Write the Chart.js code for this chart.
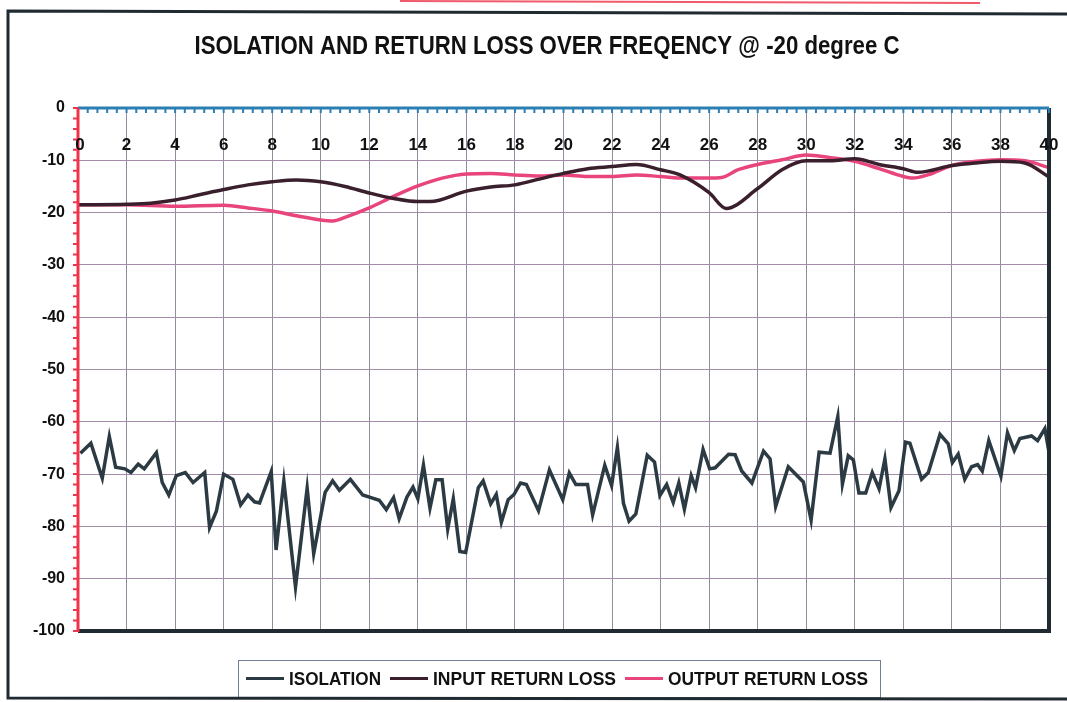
<!DOCTYPE html>
<html>
<head>
<meta charset="utf-8">
<title>Isolation and return loss</title>
<script src="https://cdn.jsdelivr.net/npm/chart.js@4.4.0/dist/chart.umd.min.js"></script>
<style>
    html, body { margin: 0; padding: 0; background: #fff; }
    #wrap { position: relative; width: 1067px; height: 702px; }
</style>
</head>
<body>
<div id="wrap"><canvas id="chart" width="1067" height="702"></canvas></div>
<script>
// Textos
const chartTitle = 'ISOLATION AND RETURN LOSS OVER FREQENCY @ -20 degree C';
const seriesNames = ['ISOLATION', 'INPUT RETURN LOSS', 'OUTPUT RETURN LOSS'];

// Ejes
const xTicks = [0, 2, 4, 6, 8, 10, 12, 14, 16, 18, 20, 22, 24, 26, 28, 30, 32, 34, 36, 38, 40];
const yTicks = [0, -10, -20, -30, -40, -50, -60, -70, -80, -90, -100];

// ISOLATION (punto a punto)
const isoFreq = [
    0.1, 0.53, 1.0, 1.29, 1.55, 1.93, 2.18, 2.48, 2.73, 3.23, 3.47, 3.74, 4.05, 4.42, 4.74,
    5.22, 5.42, 5.7, 6.0, 6.38, 6.7, 7.0, 7.27, 7.48, 7.96, 8.16, 8.48, 8.96, 9.44, 9.71,
    10.18, 10.49, 10.77, 11.22, 11.73, 12.07, 12.41, 12.7, 13.0, 13.23, 13.55, 13.8, 14.0, 14.23, 14.5,
    14.74, 15.0, 15.23, 15.46, 15.73, 15.97, 16.49, 16.69, 17.0, 17.23, 17.44, 17.72, 17.96, 18.23, 18.47,
    18.97, 19.42, 19.97, 20.24, 20.51, 20.99, 21.2, 21.7, 21.98, 22.22, 22.47, 22.7, 22.98, 23.45, 23.75,
    23.97, 24.25, 24.52, 24.75, 24.98, 25.26, 25.44, 25.75, 26.02, 26.25, 26.8, 27.07, 27.34, 27.76, 28.24,
    28.51, 28.74, 29.26, 29.88, 30.2, 30.53, 30.98, 31.3, 31.49, 31.73, 31.94, 32.17, 32.45, 32.72, 33.0,
    33.24, 33.49, 33.82, 34.09, 34.27, 34.75, 35.03, 35.51, 35.85, 36.02, 36.26, 36.53, 36.81, 37.06, 37.25,
    37.52, 38.02, 38.29, 38.57, 38.8, 39.28, 39.53, 39.83, 40.0
];
const isoLoss = [
    -66.0, -64.1, -70.8, -62.8, -68.7, -69.0, -69.7, -68.1, -69.0, -65.9, -71.6, -74.0, -70.3, -69.7, -71.6,
    -69.7, -80.2, -77.1, -70.0, -71.0, -75.9, -74.0, -75.3, -75.5, -69.5, -84.5, -71.3, -91.6, -72.7, -85.2,
    -73.5, -71.3, -73.1, -71.0, -74.0, -74.5, -75.0, -76.8, -74.5, -78.5, -74.4, -72.5, -74.7, -68.3, -76.5,
    -71.1, -71.1, -80.5, -74.7, -84.8, -85.0, -72.6, -71.3, -75.7, -73.9, -79.2, -74.9, -73.9, -71.7, -72.0,
    -77.0, -69.2, -74.9, -69.8, -72.0, -72.0, -77.8, -68.3, -72.2, -64.9, -75.6, -79.0, -77.6, -66.4, -67.7,
    -74.1, -72.0, -75.4, -71.7, -76.7, -70.3, -72.6, -65.3, -69.0, -68.8, -66.2, -66.3, -69.4, -71.7, -65.6,
    -67.1, -76.2, -68.6, -71.5, -78.8, -65.8, -66.0, -59.0, -71.9, -66.5, -67.3, -73.6, -73.6, -69.7, -72.8,
    -67.1, -76.4, -73.2, -63.9, -64.1, -71.0, -69.7, -62.4, -64.2, -67.8, -66.2, -71.0, -68.6, -68.2, -69.4,
    -63.6, -70.4, -62.1, -65.5, -63.2, -62.7, -63.6, -61.3, -65.8
];

// INPUT RETURN LOSS
const inFreq = [0, 2, 3, 4, 5, 6, 7, 8, 9, 10, 11, 12, 13, 14, 14.5, 16, 17, 18, 19, 20,
    21, 22, 23, 24, 24.8, 26, 26.7, 28, 29, 30, 31, 32, 33, 34, 34.6, 36, 37, 38, 39, 40];
const inLoss = [-18.5, -18.4, -18.2, -17.6, -16.6, -15.6, -14.7, -14.1, -13.75, -14.1, -15.0, -16.25, -17.3, -17.9, -17.9, -15.9, -15.1, -14.7, -13.6, -12.5,
    -11.6, -11.2, -10.8, -11.8, -12.8, -16.2, -19.2, -15.4, -11.8, -10.1, -10.1, -9.7, -10.8, -11.6, -12.3, -11.0, -10.5, -10.2, -10.5, -13.2];

// OUTPUT RETURN LOSS
const outFreq = [0, 2, 4, 6, 7, 8, 9, 10, 10.5, 11, 12, 13, 14, 15, 16, 17, 18, 19, 20, 21,
    22, 23, 24, 25, 26, 26.5, 27.2, 28, 29, 30, 31, 32, 33, 34, 34.4, 35, 36, 37, 38, 39, 40];
const outLoss = [-18.5, -18.5, -18.8, -18.6, -19.1, -19.7, -20.6, -21.4, -21.6, -20.9, -19.1, -16.9, -14.9, -13.4, -12.6, -12.5, -12.8, -13.0, -12.8, -13.1,
    -13.1, -12.8, -13.1, -13.4, -13.4, -13.3, -11.8, -10.8, -9.9, -9.0, -9.5, -10.2, -11.6, -13.1, -13.4, -12.8, -11.0, -10.2, -9.9, -10.1, -11.4];

const colorIso = '#2c3b43';
const colorIn = '#3a1f2d';
const colorOut = '#e8457c';
const fontArial = '"Liberation Sans", Arial, sans-serif';

const toPoints = (xs, ys) => xs.map((x, i) => ({ x: x, y: ys[i] }));

// Decoracion: fondo, ejes, titulo, leyenda y marco exterior
const framePlugin = {
    id: 'frame',
    beforeDraw(chart) {
        const ctx = chart.ctx;
        ctx.save();
        ctx.fillStyle = '#fff';
        ctx.fillRect(0, 0, chart.width, chart.height);
        ctx.restore();
    },
    afterDatasetsDraw(chart) {
        const ctx = chart.ctx;
        const area = chart.chartArea;
        const xs = chart.scales.x;
        const ys = chart.scales.y;
        ctx.save();

        // borde derecho e inferior del area
        ctx.strokeStyle = '#1f2b31';
        ctx.lineWidth = 4;
        ctx.beginPath();
        ctx.moveTo(area.right, area.top);
        ctx.lineTo(area.right, area.bottom);
        ctx.lineTo(area.left, area.bottom);
        ctx.stroke();

        // eje X arriba (azul) con marcas menores
        ctx.strokeStyle = '#2b7fb2';
        ctx.lineWidth = 3;
        ctx.beginPath();
        ctx.moveTo(area.left, area.top);
        ctx.lineTo(area.right, area.top);
        ctx.stroke();
        ctx.lineWidth = 2;
        ctx.beginPath();
        for (let k = 0; k <= 100; k++) {
            const px = xs.getPixelForValue(k * 0.4);
            ctx.moveTo(px, area.top);
            ctx.lineTo(px, area.top + 5);
        }
        ctx.stroke();

        // eje Y a la izquierda (rojo) con marcas
        ctx.strokeStyle = '#f0344c';
        ctx.lineWidth = 3;
        ctx.beginPath();
        ctx.moveTo(area.left, area.top);
        ctx.lineTo(area.left, area.bottom + 1);
        ctx.stroke();
        ctx.lineWidth = 2;
        ctx.beginPath();
        for (let v = 0; v >= -100; v -= 2) {
            const py = ys.getPixelForValue(v);
            ctx.moveTo(area.left - 5, py);
            ctx.lineTo(area.left, py);
        }
        ctx.stroke();

        // etiquetas del eje X dentro del area
        ctx.fillStyle = '#111';
        ctx.font = 'bold 17px ' + fontArial;
        ctx.textAlign = 'center';
        ctx.textBaseline = 'middle';
        xTicks.forEach(t => {
            ctx.fillText(String(t), xs.getPixelForValue(t) + (t === 0 ? 2 : 0), area.top + 37);
        });
        ctx.restore();
    },
    afterDraw(chart) {
        const ctx = chart.ctx;
        ctx.save();

        // titulo
        ctx.fillStyle = '#111';
        ctx.font = 'bold 25px ' + fontArial;
        ctx.textAlign = 'center';
        ctx.textBaseline = 'middle';
        ctx.fillText(chartTitle, 547, 47, 705);

        // leyenda con caja
        const lx = 238, ly = 660, lw = 642, lh = 37;
        ctx.strokeStyle = '#6f7f95';
        ctx.lineWidth = 1;
        ctx.strokeRect(lx + 0.5, ly + 0.5, lw, lh);
        const items = [
            { name: seriesNames[0], color: colorIso, x: 246, w: 92 },
            { name: seriesNames[1], color: colorIn, x: 390, w: 183 },
            { name: seriesNames[2], color: colorOut, x: 625, w: 200 }
        ];
        ctx.font = 'bold 19px ' + fontArial;
        ctx.textAlign = 'left';
        items.forEach(it => {
            ctx.strokeStyle = it.color;
            ctx.lineWidth = 3;
            ctx.beginPath();
            ctx.moveTo(it.x, ly + lh / 2);
            ctx.lineTo(it.x + 38, ly + lh / 2);
            ctx.stroke();
            ctx.fillStyle = '#111';
            ctx.fillText(it.name, it.x + 43, ly + lh / 2 + 1, it.w);
        });

        // marco exterior
        ctx.strokeStyle = '#1f2b31';
        ctx.lineWidth = 3;
        ctx.beginPath();
        ctx.moveTo(1067, 14);
        ctx.lineTo(8, 11);
        ctx.lineTo(8, 698);
        ctx.lineTo(1067, 699);
        ctx.stroke();
        ctx.strokeStyle = '#f05a6a';
        ctx.lineWidth = 2;
        ctx.beginPath();
        ctx.moveTo(400, 1);
        ctx.lineTo(980, 3);
        ctx.stroke();
        ctx.restore();
    }
};

const lineSet = (label, pts, color, smooth) => ({
    label: label,
    data: pts,
    borderColor: color,
    backgroundColor: color,
    borderWidth: 3.5,
    pointRadius: 0,
    cubicInterpolationMode: smooth ? 'monotone' : 'default',
    tension: smooth ? 0.4 : 0,
    fill: false
});

new Chart(document.getElementById('chart'), {
    type: 'line',
    data: {
        datasets: [
            lineSet(seriesNames[0], toPoints(isoFreq, isoLoss), colorIso, false),
            lineSet(seriesNames[1], toPoints(inFreq, inLoss), colorIn, true),
            lineSet(seriesNames[2], toPoints(outFreq, outLoss), colorOut, true)
        ]
    },
    options: {
        responsive: false,
        animation: false,
        layout: { padding: { left: 0, right: 18, top: 0, bottom: 71 } },
        plugins: {
            legend: { display: false },
            title: { display: false },
            tooltip: { enabled: false }
        },
        scales: {
            x: {
                type: 'linear',
                position: 'top',
                min: 0,
                max: 40,
                afterFit: (scale) => { scale.height = 108; },
                ticks: { stepSize: 2, display: false },
                grid: { color: '#8e8e9c', lineWidth: 1, drawTicks: false },
                border: { display: false }
            },
            y: {
                type: 'linear',
                min: -100,
                max: 0,
                afterFit: (scale) => { scale.width = 78; },
                ticks: {
                    stepSize: 10,
                    padding: 13,
                    color: '#111',
                    font: { family: fontArial, size: 16, weight: 'bold' }
                },
                grid: { color: '#a48ca8', lineWidth: 1, drawTicks: false },
                border: { display: false }
            }
        }
    },
    plugins: [framePlugin]
});
</script>
</body>
</html>
